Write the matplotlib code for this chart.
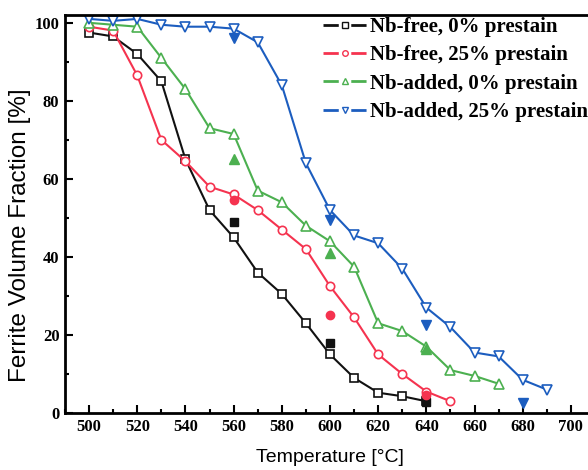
import matplotlib
matplotlib.use('Agg')
import matplotlib.pyplot as plt
from matplotlib.ticker import MultipleLocator
from matplotlib.lines import Line2D

# Temperatures and ferrite fractions
temp_free0 = [500, 510, 520, 530, 540, 550, 560, 570, 580, 590, 600, 610, 620, 630, 640]
frac_free0 = [97.5, 96.5, 92, 85, 65, 52, 45, 36, 30.5, 23, 15, 9, 5.2, 4.3, 3]

temp_free25 = [500, 510, 520, 530, 540, 550, 560, 570, 580, 590, 600, 610, 620, 630, 640, 650]
frac_free25 = [99, 98, 86.5, 70, 64.5, 58, 56, 52, 47, 42, 32.5, 24.5, 15, 10, 5.5, 3]

temp_add0 = [500, 510, 520, 530, 540, 550, 560, 570, 580, 590, 600, 610, 620, 630, 640, 650, 660, 670]
frac_add0 = [100, 99.5, 99, 91, 83, 73, 71.5, 57, 54, 48, 44, 37.5, 23, 21, 17, 11, 9.5, 7.5]

temp_add25 = [500, 510, 520, 530, 540, 550, 560, 570, 580, 590, 600, 610, 620, 630, 640, 650, 660, 670, 680, 690]
frac_add25 = [101, 100.5, 101, 99.5, 99, 99, 98.5, 95, 84, 64, 52, 45.5, 43.5, 37, 27, 22, 15.5, 14.5, 8.5, 6]

# single filled points
pt_free0_t = [560, 600, 640]
pt_free0_v = [49, 18, 2.7]
pt_free25_t = [560, 600, 640]
pt_free25_v = [54.5, 25, 4.5]
pt_add0_t = [560, 600, 640]
pt_add0_v = [65, 41, 16.5]
pt_add25_t = [560, 600, 640, 680]
pt_add25_v = [96, 49.5, 22.5, 2.5]

labels = ['Nb-free, 0% prestain', 'Nb-free, 25% prestain',
          'Nb-added, 0% prestain', 'Nb-added, 25% prestain']

black = '#111111'
red = '#f5334f'
green = '#4cb050'
blue = '#1c5dbf'

fig = plt.figure(figsize=(5.88, 4.70), dpi=100)
ax = fig.add_axes([65/588, 57/470, 530/588, 398/470])

ax.plot(temp_free0, frac_free0, '-s', color=black, mfc='white', ms=6, lw=1.5, mew=1.2)
ax.plot(temp_free25, frac_free25, '-o', color=red, mfc='white', ms=6, lw=1.5, mew=1.2)
ax.plot(temp_add0, frac_add0, '-^', color=green, mfc='white', ms=7, lw=1.5, mew=1.2)
ax.plot(temp_add25, frac_add25, '-v', color=blue, mfc='white', ms=7, lw=1.5, mew=1.2)

ax.plot(pt_free0_t, pt_free0_v, 's', color=black, ms=6, ls='none')
ax.plot(pt_free25_t, pt_free25_v, 'o', color=red, ms=6, ls='none')
ax.plot(pt_add0_t, pt_add0_v, '^', color=green, ms=7, ls='none')
ax.plot(pt_add25_t, pt_add25_v, 'v', color=blue, ms=7, ls='none')

ax.set_xlim(490, 710)
ax.set_ylim(0, 102)
ax.xaxis.set_major_locator(MultipleLocator(20))
ax.xaxis.set_minor_locator(MultipleLocator(10))
ax.yaxis.set_major_locator(MultipleLocator(20))
ax.yaxis.set_minor_locator(MultipleLocator(10))
ax.tick_params(which='both', direction='in', width=1.5)
ax.tick_params(which='major', length=6, pad=4)
ax.tick_params(which='minor', length=3)
for s in ax.spines.values():
    s.set_linewidth(2)

for lab in ax.get_xticklabels() + ax.get_yticklabels():
    lab.set_fontfamily('Liberation Serif')
    lab.set_fontweight('bold')
    lab.set_fontsize(12)

ax.set_xlabel('Temperature [°C]', fontsize=14, family='Liberation Sans')
ax.set_ylabel('Ferrite Volume Fraction [%]', fontsize=17.5, family='Liberation Sans')
ax.xaxis.set_label_coords(0.5, -0.09)
ax.yaxis.set_label_coords(-0.065, 0.447)

# legend handles: short dash, small open marker, short dash
handles = []
for c, m in zip([black, red, green, blue], ['s', 'o', '^', 'v']):
    handles.append(Line2D([], [], color=c, lw=2, ls=(0, (5.5, 4.5)), marker=m,
                          mfc='white', ms=4, mew=1))
leg = ax.legend(handles, labels, loc='upper left', bbox_to_anchor=(0.487, 0.995),
                frameon=False, borderpad=0, borderaxespad=0,
                prop={'family': 'Liberation Serif', 'weight': 'bold', 'size': 15},
                handlelength=2.1, handletextpad=0.15, labelspacing=0.4)

plt.savefig('out.png', dpi=100)
